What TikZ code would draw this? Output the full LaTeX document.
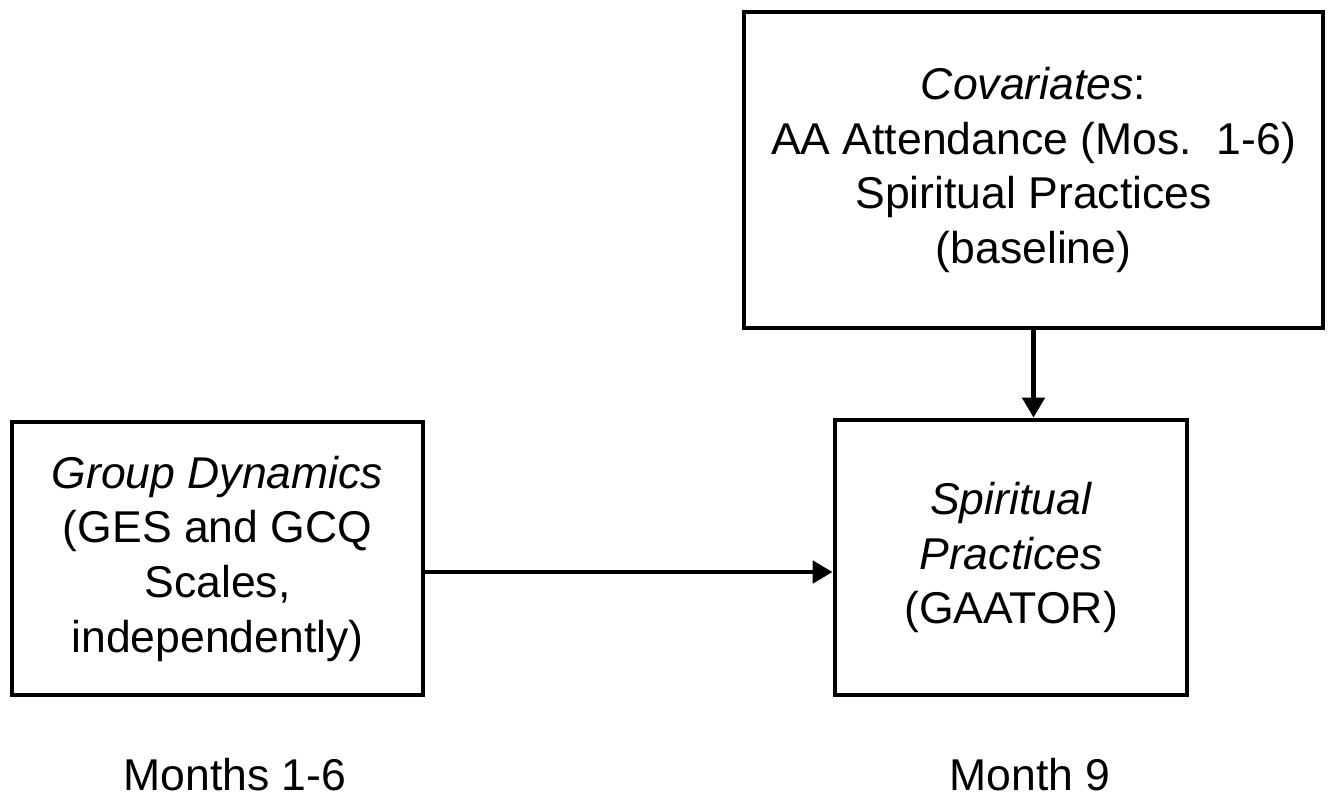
\documentclass[tikz,border=0pt]{standalone}
\usepackage{fontspec}
\setmainfont{Liberation Sans}
\usetikzlibrary{arrows.meta}
\begin{document}
\begin{tikzpicture}[x=0.75pt,y=-0.75pt,
  box/.style={draw=black, line width=3.6pt, align=center, inner sep=0pt, fill=white,
    font=\fontsize{33.4pt}{41pt}\selectfont},
  lbl/.style={inner sep=0pt, font=\fontsize{33.4pt}{41pt}\selectfont},
  arr/.style={line width=3.6pt, -{Triangle[length=15pt,width=16.5pt]}}]
\useasboundingbox (0,0) rectangle (1333,800);
\node[box, minimum width=579*0.75pt, minimum height=316*0.75pt] (cov) at (1033.5,170)
  {\textit{Covariates}:\\AA Attendance (Mos.\ \ 1-6)\\Spiritual Practices\\(baseline)};
\node[box, minimum width=411*0.75pt, minimum height=273*0.75pt] (gd) at (217.5,558.5)
  {\textit{Group Dynamics}\\(GES and GCQ\\Scales,\\independently)};
\node[box, minimum width=352*0.75pt, minimum height=275*0.75pt] (sp) at (1011,557.5)
  {\textit{Spiritual}\\\textit{Practices}\\(GAATOR)};
\coordinate (ay) at (0,572);
\draw[arr] (gd.east |- ay) -- (sp.west |- ay);
\draw[arr] (cov.south) -- (cov.south |- sp.north);
\node[lbl] (m1) at (235,775) {Months 1-6};
\node[lbl] (m9) at (1030,775) {Month 9};
\end{tikzpicture}
\end{document}
